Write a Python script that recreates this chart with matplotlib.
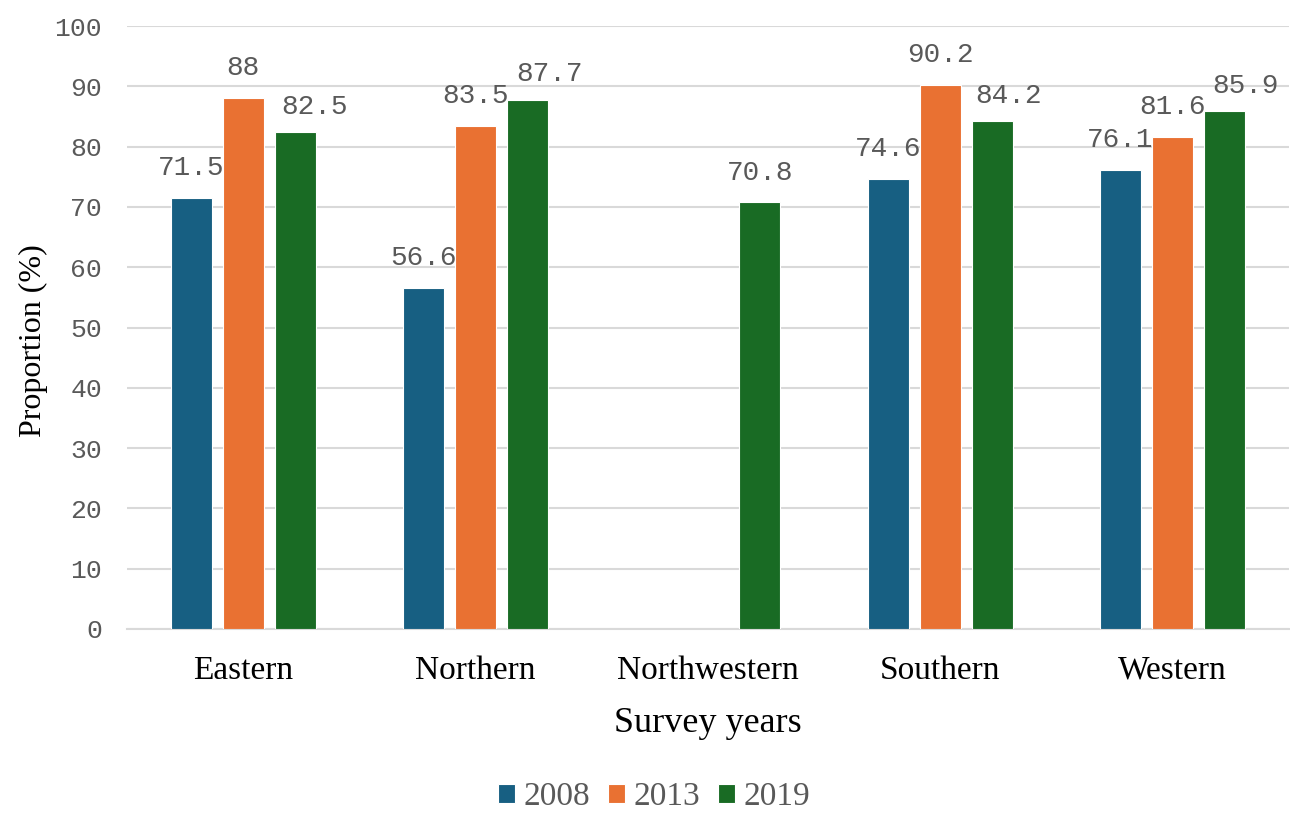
import matplotlib
matplotlib.use("Agg")
import matplotlib.pyplot as plt
import numpy as np

categories = ["Eastern", "Northern", "Northwestern", "Southern", "Western"]
years = ["2008", "2013", "2019"]
v2008 = [71.5, 56.6, None, 74.6, 76.1]
v2013 = [88, 83.5, None, 90.2, 81.6]
v2019 = [82.5, 87.7, 70.8, 84.2, 85.9]
colors = ["#175F82", "#E97132", "#196B24"]

# label nudges (points) as placed in the reference: (dx, dy) per series per category
label_nudge = [
    [(0, 16.5)] * 5,
    [(0, 16.5)] * 5,
    [(14, 13), (16, 13.5), (0, 16), (12, 13), (15, 13)],
]

fig = plt.figure(figsize=(12.9, 8.14), dpi=100)
ax = fig.add_axes([0.0985, 0.2273, 0.9005, 0.7407])

x = np.arange(len(categories))
offsets = [-0.224, 0.0, 0.224]
width = 0.176
gray = "#595959"
mono = "Liberation Mono"
serif = "Liberation Serif"

for si, (series, off, col, lab) in enumerate(zip([v2008, v2013, v2019], offsets, colors, years)):
    idx = [i for i, v in enumerate(series) if v is not None]
    xs = [x[i] + off for i in idx]
    vs = [series[i] for i in idx]
    bars = ax.bar(xs, vs, width=width, color=col, label=lab, edgecolor="white", linewidth=0.8, zorder=3)
    for i, b, v in zip(idx, bars, vs):
        dx, dy = label_nudge[si][i]
        ax.annotate(f"{v:g}", (b.get_x() + b.get_width() / 2, v), xytext=(dx, dy), textcoords="offset points",
                    ha="center", va="baseline", fontsize=20, family=mono, color=gray, zorder=4)

ax.set_xlim(-0.5, 4.5)
ax.set_ylim(0, 100)
ax.set_yticks(range(0, 101, 10))
ax.set_xticks(x)
ax.set_xticklabels(categories, fontfamily=serif, fontsize=24, color="black")
for t in ax.get_yticklabels():
    t.set_fontfamily(mono)
    t.set_fontsize(19)
    t.set_color(gray)
ax.tick_params(axis="both", length=0)
ax.tick_params(axis="x", pad=19)
ax.tick_params(axis="y", pad=18)
ax.grid(axis="y", color="#D9D9D9", linewidth=1.5, zorder=0)
for s in ["top", "right", "left"]:
    ax.spines[s].set_visible(False)
ax.spines["bottom"].set_color("#D9D9D9")
ax.spines["bottom"].set_linewidth(1.5)

ax.set_ylabel("Proportion (%)", fontfamily=serif, fontsize=23)
ax.yaxis.set_label_coords(-0.081, 0.478)
ax.yaxis.label.set_va("center")
ax.set_xlabel("Survey years", fontfamily=serif, fontsize=26, labelpad=15)

leg = fig.legend(loc="center", bbox_to_anchor=(0.507, 0.021), ncol=3, frameon=False,
                 prop={"family": serif, "size": 24}, handlelength=0.51, handleheight=0.51,
                 handletextpad=0.24, columnspacing=0.55, borderpad=0.2)
for t in leg.get_texts():
    t.set_color(gray)

fig.savefig("out.png", dpi=100)
